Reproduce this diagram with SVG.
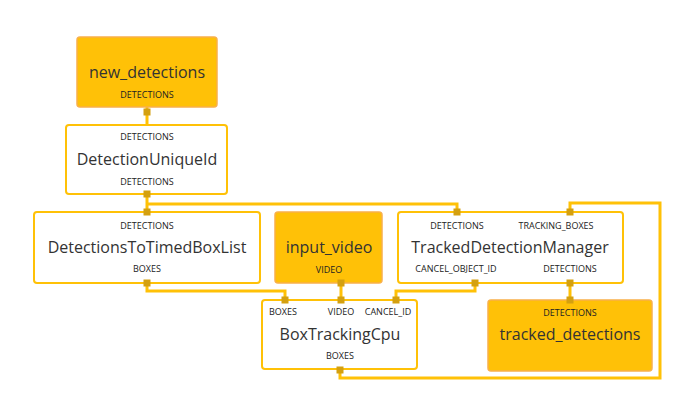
<svg xmlns="http://www.w3.org/2000/svg" width="699" height="420" viewBox="0 0 699 420">
<style>
.n{fill:#fff;stroke:#ffc107;stroke-width:2}
.s{fill:#ffc107;stroke:#f9b04a;stroke-width:1.5}
.t{font-family:"Open Sans","Liberation Sans",sans-serif;font-size:16px;fill:#333;text-anchor:middle}
.p{font-family:"Open Sans","Liberation Sans",sans-serif;font-size:9px;fill:#222;text-anchor:middle}
.w{fill:none;stroke:#ffc107;stroke-width:3}
.q{fill:#d4a010}
</style>
<rect width="699" height="420" fill="#fff"/>
<g id="connectors">
<path class="w" d="M147,107V125"/>
<path class="w" d="M147,194V212M147,204H457V212"/>
<path class="w" d="M147,283V291H285V300"/>
<path class="w" d="M341,283V300"/>
<path class="w" d="M475,283V291H396V300"/>
<path class="w" d="M570,283V300"/>
<path class="w" d="M340,370V378H660V203H570V212"/>
</g>
<g id="new_detections"><rect class="s" x="77" y="37" width="140" height="70" rx="3"/><text class="t" x="147" y="78">new_detections</text><text class="p" x="147" y="98">DETECTIONS</text></g>
<g id="DetectionUniqueId"><rect class="n" x="66" y="125" width="161" height="69" rx="3"/><text class="p" x="147" y="140">DETECTIONS</text><text class="t" x="147" y="165">DetectionUniqueId</text><text class="p" x="147" y="185">DETECTIONS</text></g>
<g id="DetectionsToTimedBoxList"><rect class="n" x="34" y="212" width="226" height="71" rx="3"/><text class="p" x="147" y="229">DETECTIONS</text><text class="t" x="147" y="253">DetectionsToTimedBoxList</text><text class="p" x="147" y="272">BOXES</text></g>
<g id="input_video"><rect class="s" x="275" y="212" width="107" height="71" rx="3"/><text class="t" x="329" y="253">input_video</text><text class="p" x="329" y="273">VIDEO</text></g>
<g id="TrackedDetectionManager"><rect class="n" x="398" y="212" width="225" height="71" rx="3"/><text class="p" x="457" y="229">DETECTIONS</text><text class="p" x="556" y="229">TRACKING_BOXES</text><text class="t" x="510" y="253">TrackedDetectionManager</text><text class="p" x="456" y="272">CANCEL_OBJECT_ID</text><text class="p" x="570" y="272">DETECTIONS</text></g>
<g id="BoxTrackingCpu"><rect class="n" x="262" y="300" width="155" height="69" rx="3"/><text class="p" x="283" y="315">BOXES</text><text class="p" x="341" y="315">VIDEO</text><text class="p" x="388" y="315">CANCEL_ID</text><text class="t" x="340" y="340">BoxTrackingCpu</text><text class="p" x="340" y="359">BOXES</text></g>
<g id="tracked_detections"><rect class="s" x="488" y="300" width="164" height="71" rx="3"/><text class="p" x="570" y="316">DETECTIONS</text><text class="t" x="570" y="340">tracked_detections</text></g>
<g id="ports">
<rect class="q" x="143.5" y="108.5" width="7" height="7"/>
<rect class="q" x="143.5" y="190.5" width="7" height="7"/>
<rect class="q" x="143.5" y="208.5" width="7" height="7"/>
<rect class="q" x="143.5" y="279.5" width="7" height="7"/>
<rect class="q" x="337.5" y="279.5" width="7" height="7"/>
<rect class="q" x="453.5" y="208.5" width="7" height="7"/>
<rect class="q" x="566.5" y="208.5" width="7" height="7"/>
<rect class="q" x="471.5" y="279.5" width="7" height="7"/>
<rect class="q" x="566.5" y="279.5" width="7" height="7"/>
<rect class="q" x="281.5" y="296.5" width="7" height="7"/>
<rect class="q" x="337.5" y="296.5" width="7" height="7"/>
<rect class="q" x="392.5" y="296.5" width="7" height="7"/>
<rect class="q" x="336.5" y="366.5" width="7" height="7"/>
<rect class="q" x="566.5" y="296.5" width="7" height="7"/>
</g>
</svg>
